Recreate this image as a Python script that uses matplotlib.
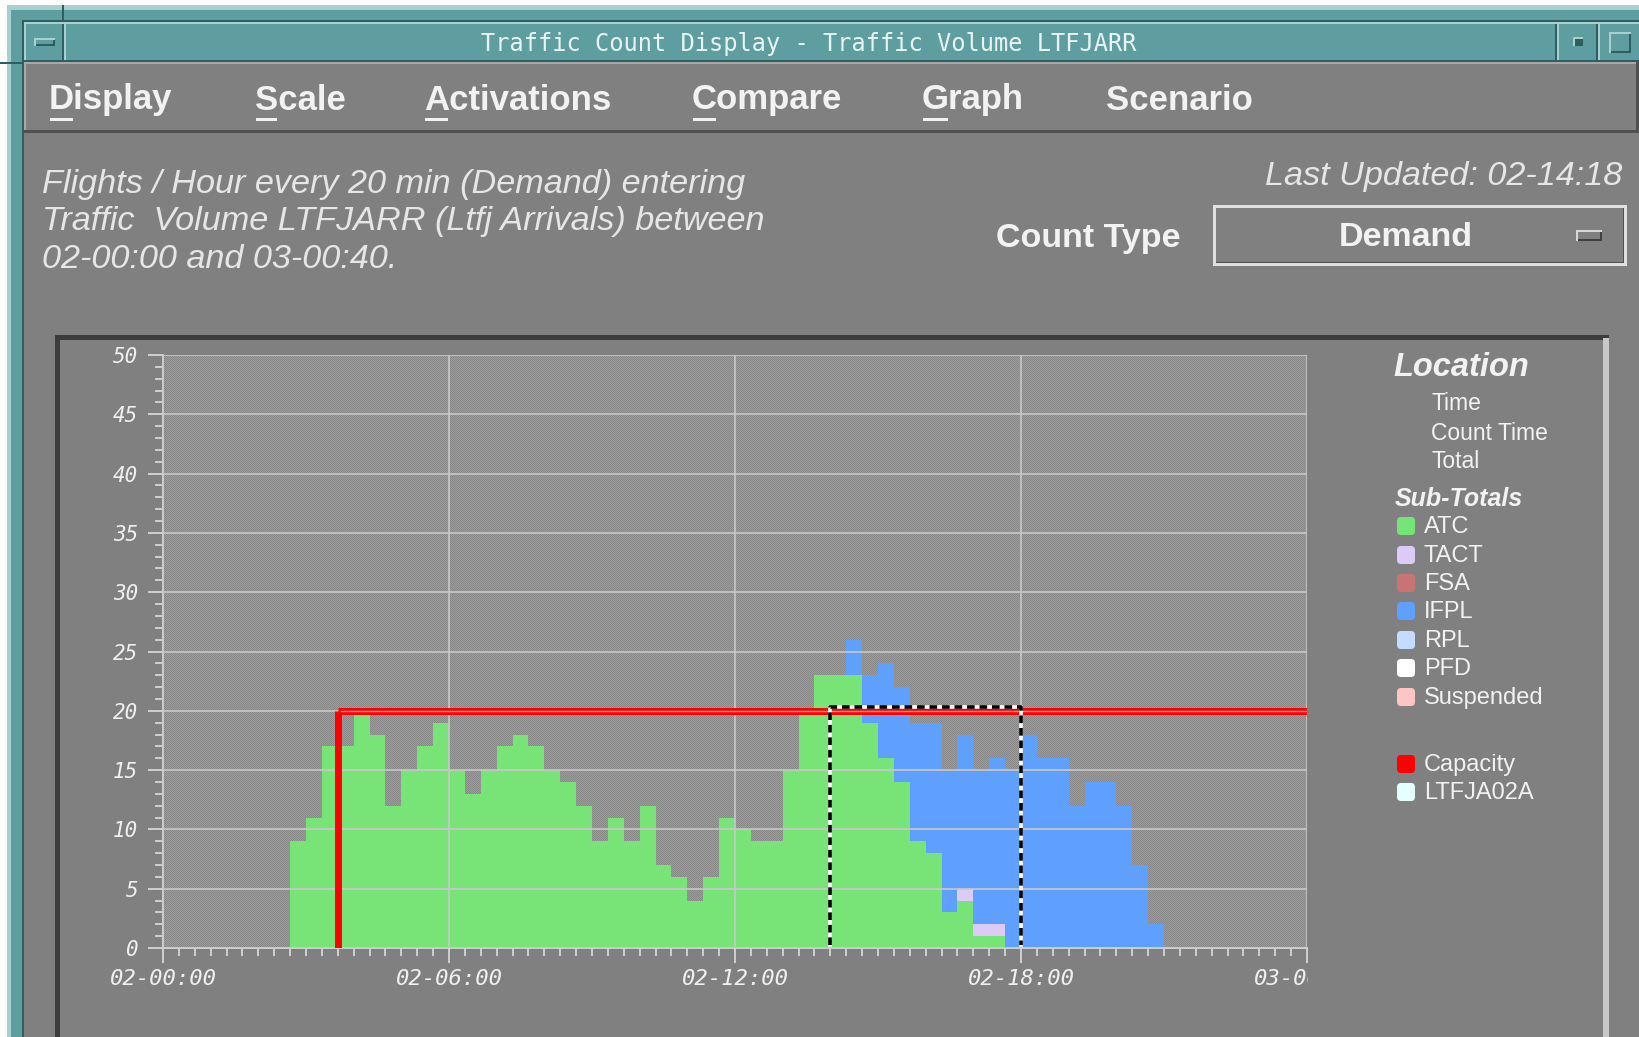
import numpy as np
import matplotlib
matplotlib.use("Agg")
import matplotlib.pyplot as plt
from matplotlib.patches import Rectangle, FancyBboxPatch
from matplotlib.ticker import FixedLocator, MultipleLocator
from matplotlib.transforms import Bbox, IdentityTransform, ScaledTranslation

W, H = 1639, 1037

# flights per hour, one value per 20 min slot from 02-00:00 to 02-23:40
atc = [0, 0, 0, 0, 0, 0, 0, 0,
       9, 11, 17, 17, 20, 18, 12, 15, 17, 19,
       15, 13, 15, 17, 18, 17, 15, 14, 12, 9, 11, 9, 12, 7, 6, 4, 6, 11,
       10, 9, 9, 15, 20, 23, 23, 23, 19, 16, 14, 9, 8, 3, 4, 1, 1, 0,
       0, 0, 0, 0, 0, 0, 0, 0, 0, 0, 0, 0, 0, 0, 0, 0, 0, 0]
tact = [0, 0, 0, 0, 0, 0, 0, 0,
        0, 0, 0, 0, 0, 0, 0, 0, 0, 0,
        0, 0, 0, 0, 0, 0, 0, 0, 0, 0, 0, 0, 0, 0, 0, 0, 0, 0,
        0, 0, 0, 0, 0, 0, 0, 0, 0, 0, 0, 0, 0, 0, 1, 1, 1, 0,
        0, 0, 0, 0, 0, 0, 0, 0, 0, 0, 0, 0, 0, 0, 0, 0, 0, 0]
ifpl = [0, 0, 0, 0, 0, 0, 0, 0,
        0, 0, 0, 0, 0, 0, 0, 0, 0, 0,
        0, 0, 0, 0, 0, 0, 0, 0, 0, 0, 0, 0, 0, 0, 0, 0, 0, 0,
        0, 0, 0, 0, 0, 0, 0, 3, 4, 8, 8, 10, 11, 12, 13, 13, 14, 15,
        18, 16, 16, 12, 14, 14, 12, 7, 2, 0, 0, 0, 0, 0, 0, 0, 0, 0]

x_tick_times = ["02-00:00", "02-06:00", "02-12:00", "02-18:00", "03-00:00"]
y_ticks = [0, 5, 10, 15, 20, 25, 30, 35, 40, 45, 50]

capacity = 20
capacity_from = "02-03:40"
capacity_to = "03-00:00"
ltfja02a_value = 20
ltfja02a_from = "02-14:00"
ltfja02a_to = "02-18:00"

menu_items = ["Display", "Scale", "Activations", "Compare", "Graph", "Scenario"]
menu_x = [49, 255, 424, 692, 922, 1106]

legend_labels = ["ATC", "TACT", "FSA", "IFPL", "RPL", "PFD", "Suspended"]
legend_colors = ["#78e478", "#dccaf7", "#c87474", "#5f9ffe", "#c4dcff", "#ffffff", "#ffc4c4"]
legend_y = [527, 556, 584, 612, 641, 669, 698]

GREEN, LAVENDER, BLUE = "#78e478", "#dccaf7", "#5f9ffe"
TEAL, TEAL_LT, TEAL_DK = "#5f9ea0", "#a8d0d0", "#2e5e60"
BG = "#808080"
TXT = "#f2f2f2"


def slot(t):
    day, hm = t.split("-")
    hh, mm = hm.split(":")
    return (int(day) - 2) * 72 + (int(hh) * 60 + int(mm)) / 20


fig = plt.figure(figsize=(W / 100, H / 100), dpi=100, facecolor=BG)
plt.rcParams["lines.scale_dashes"] = False


def frect(x0, y0, x1, y1, color, z=-2):
    fig.add_artist(Rectangle((x0 / W, 1 - y1 / H), (x1 - x0) / W, (y1 - y0) / H,
                             transform=fig.transFigure, fc=color, ec="none", lw=0, zorder=z))


def ftext(x, y, s, **kw):
    return fig.text(x / W, 1 - y / H, s, **kw)


# window frame
frect(0, 0, 7, H, "white")
frect(0, 0, W, 5, "white")
frect(7, 5, 11, H, TEAL_LT)
frect(7, 5, W, 10, TEAL_LT)
frect(11, 10, 22, H, TEAL)
frect(11, 10, W, 22, TEAL)
frect(22, 20, 24, H, TEAL_DK)
frect(22, 20, W, 22, TEAL_DK)
frect(62, 5, 64, 22, TEAL_DK)
frect(0, 62, 24, 64, TEAL_DK)

# title bar
frect(24, 22, W, 62, TEAL)
frect(24, 22, W, 24, TEAL_LT)
frect(24, 22, 26, 62, TEAL_LT)
frect(24, 60, W, 62, TEAL_DK)
frect(62, 24, 64, 60, TEAL_DK)
frect(64, 24, 66, 60, TEAL_LT)
frect(1555, 24, 1557, 60, TEAL_DK)
frect(1557, 24, 1559, 60, TEAL_LT)
frect(1596, 24, 1598, 60, TEAL_DK)
frect(1598, 24, 1600, 60, TEAL_LT)
frect(34, 38, 55, 46, TEAL_LT)
frect(36, 40, 55, 46, TEAL_DK)
frect(36, 40, 53, 44, TEAL)
frect(1573, 37, 1583, 46, TEAL_LT)
frect(1575, 39, 1583, 46, TEAL_DK)
frect(1609, 32, 1631, 53, TEAL_LT)
frect(1611, 34, 1631, 53, TEAL_DK)
frect(1611, 34, 1629, 51, TEAL)
ftext(809, 44, "Traffic Count Display - Traffic Volume LTFJARR", family="DejaVu Sans Mono",
      size=17, color="#e8f4f4", ha="center", va="center")

# menu bar
frect(24, 62, W, 64, "#a8a8a8")
frect(24, 62, 26, 133, "#a8a8a8")
frect(24, 130, W, 133, "#505050")
frect(1636, 62, W, 133, "#505050")
renderer = fig.canvas.get_renderer()
for name, x in zip(menu_items, menu_x):
    ftext(x, 100, name, family="Liberation Sans", weight="bold", size=25,
          color=TXT, ha="left", va="center")
    if name != "Scenario":
        probe = ftext(x, 100, name[0], family="Liberation Sans", weight="bold", size=25)
        wpx = probe.get_window_extent(renderer).width
        probe.remove()
        frect(x + 1, 118, x + wpx - 1, 121, TXT, z=3)

# header texts
for k, line in enumerate(["Flights / Hour every 20 min (Demand) entering",
                          "Traffic  Volume LTFJARR (Ltfj Arrivals) between",
                          "02-00:00 and 03-00:40."]):
    ftext(42, 184 + k * 37.5, line, family="Liberation Sans", style="italic",
          size=24.7, color="#e6e6e6", ha="left", va="center")
ftext(1622, 177, "Last Updated: 02-14:18", family="Liberation Sans", style="italic",
      size=24.7, color="#e6e6e6", ha="right", va="center")
ftext(996, 238, "Count Type", family="Liberation Sans", weight="bold", size=24.5,
      color=TXT, ha="left", va="center")

# count type selector
frect(1213, 205, 1627, 266, "#e0e0e0")
frect(1216, 208, 1624, 263, "#505050")
frect(1216, 208, 1623, 262, BG)
ftext(1406, 238, "Demand", family="Liberation Sans", weight="bold", size=24.5,
      color=TXT, ha="center", va="center")
frect(1576, 230, 1602, 241, "#d8d8d8")
frect(1578, 232, 1602, 241, "#404040")
frect(1578, 232, 1600, 239, BG)

# chart frame
frect(55, 335, 1609, 340, "#3c3c3c")
frect(55, 335, 60, H, "#3c3c3c")
frect(1603, 338, 1609, H, "#c8c8c8")

# plot area with dithered background
ax_l, ax_r, ax_t, ax_b = 163, 1307, 355, 948
ax = fig.add_axes([ax_l / W, 1 - ax_b / H, (ax_r - ax_l) / W, (ax_b - ax_t) / H])
ax.patch.set_alpha(0)
hh_, ww_ = ax_b - ax_t, ax_r - ax_l
ii, jj = np.indices((hh_, ww_))
checker = np.where(((ii + jj) % 2 == 0)[..., None],
                   np.array([0x88, 0x88, 0x88], np.uint8),
                   np.array([0x9c, 0x9c, 0x9c], np.uint8)).astype(np.uint8)
fig.figimage(checker, xo=ax_l, yo=H - ax_b, zorder=-1)

slots = np.arange(len(atc))
atc_a, tact_a, ifpl_a = np.array(atc), np.array(tact), np.array(ifpl)
ax.bar(slots, atc_a, width=1, align="edge", color=GREEN, lw=0, antialiased=False, zorder=1)
ax.bar(slots, tact_a, bottom=atc_a, width=1, align="edge", color=LAVENDER, lw=0,
       antialiased=False, zorder=1)
ax.bar(slots, ifpl_a, bottom=atc_a + tact_a, width=1, align="edge", color=BLUE, lw=0,
       antialiased=False, zorder=1)

# capacity
c0, c1 = slot(capacity_from), slot(capacity_to)
ax.plot([c0, c0], [0, capacity], color="red", lw=5, solid_capstyle="butt", zorder=3)
ax.plot([c0, c1], [capacity, capacity], color="red", lw=5, solid_capstyle="butt", zorder=3)
ax.plot([c0 + 0.2, c1], [capacity, capacity], color="#ff9a9a", lw=1, zorder=3.1)

# LTFJA02A activation
a0, a1 = slot(ltfja02a_from), slot(ltfja02a_to)
up = ax.transData + ScaledTranslation(0, 0.035, fig.dpi_scale_trans)
bx = [a0, a0, a1, a1]
by = [0, ltfja02a_value, ltfja02a_value, 0]
ax.plot(bx, by, color="white", lw=2.6, transform=up, zorder=4, clip_on=False,
        solid_joinstyle="miter")
ax.plot(bx, by, color="black", lw=2.6, transform=up, zorder=4.1, clip_on=False,
        linestyle=(0, (5.5, 3.5)))

ax.set_xlim(0, 72)
ax.set_ylim(0, 50)
ax.xaxis.set_major_locator(FixedLocator([slot(t) for t in x_tick_times]))
ax.set_xticklabels(x_tick_times)
ax.xaxis.set_minor_locator(MultipleLocator(1))
ax.yaxis.set_major_locator(FixedLocator(y_ticks))
ax.set_yticklabels([str(v) for v in y_ticks])
ax.yaxis.set_minor_locator(MultipleLocator(1))
ax.set_axisbelow(False)
ax.grid(True, which="major", color="#c8c8c8", lw=1.2)
for s in ["top", "right"]:
    ax.spines[s].set_visible(False)
for s in ["left", "bottom"]:
    ax.spines[s].set_color("#d0d0d0")
    ax.spines[s].set_linewidth(1.4)
ax.tick_params(which="major", color="#d0d0d0", width=1.4, length=10.8, direction="out")
ax.tick_params(which="minor", color="#d0d0d0", width=1.4, length=5.8, direction="out")
ax.tick_params(axis="y", which="major", pad=7)
ax.tick_params(axis="x", which="major", pad=4)
clip = Bbox([[0, 0], [ax_r + 1, H]])
for lbl in ax.get_xticklabels():
    lbl.set_fontsize(16)
    lbl.set_clip_box(clip)
    lbl.set_clip_on(True)
for lbl in ax.get_yticklabels():
    lbl.set_fontsize(15)
for lbl in ax.get_xticklabels() + ax.get_yticklabels():
    lbl.set_family("DejaVu Sans Mono")
    lbl.set_style("oblique")
    lbl.set_color("#f0f0f0")

# legend panel
ftext(1393, 368, "Location", family="Liberation Sans", weight="bold", style="italic",
      size=23.5, color=TXT, ha="left", va="center")
for y, s in zip([404, 433, 461], ["Time", "Count Time", "Total"]):
    ftext(1431, y, s, family="Liberation Sans", size=16.5, color=TXT, ha="left", va="center")
ftext(1395, 499, "Sub-Totals", family="Liberation Sans", weight="bold", style="italic",
      size=18, color=TXT, ha="left", va="center")


def swatch(y, color):
    fig.add_artist(FancyBboxPatch((1397, H - y - 9), 18, 18, boxstyle="round,pad=0,rounding_size=4",
                                  transform=IdentityTransform(), fc=color, ec="none", zorder=2))


for y, s, c in zip(legend_y, legend_labels, legend_colors):
    swatch(y - 1, c)
    ftext(1424, y, s, family="Liberation Sans", size=17, color=TXT, ha="left", va="center")
swatch(764, "#ff0000")
ftext(1424, 765, "Capacity", family="Liberation Sans", size=17, color=TXT, ha="left", va="center")
swatch(792, "#e4ffff")
ftext(1424, 793, "LTFJA02A", family="Liberation Sans", size=17, color=TXT, ha="left", va="center")

fig.savefig("out.png", dpi=100, facecolor=BG)
